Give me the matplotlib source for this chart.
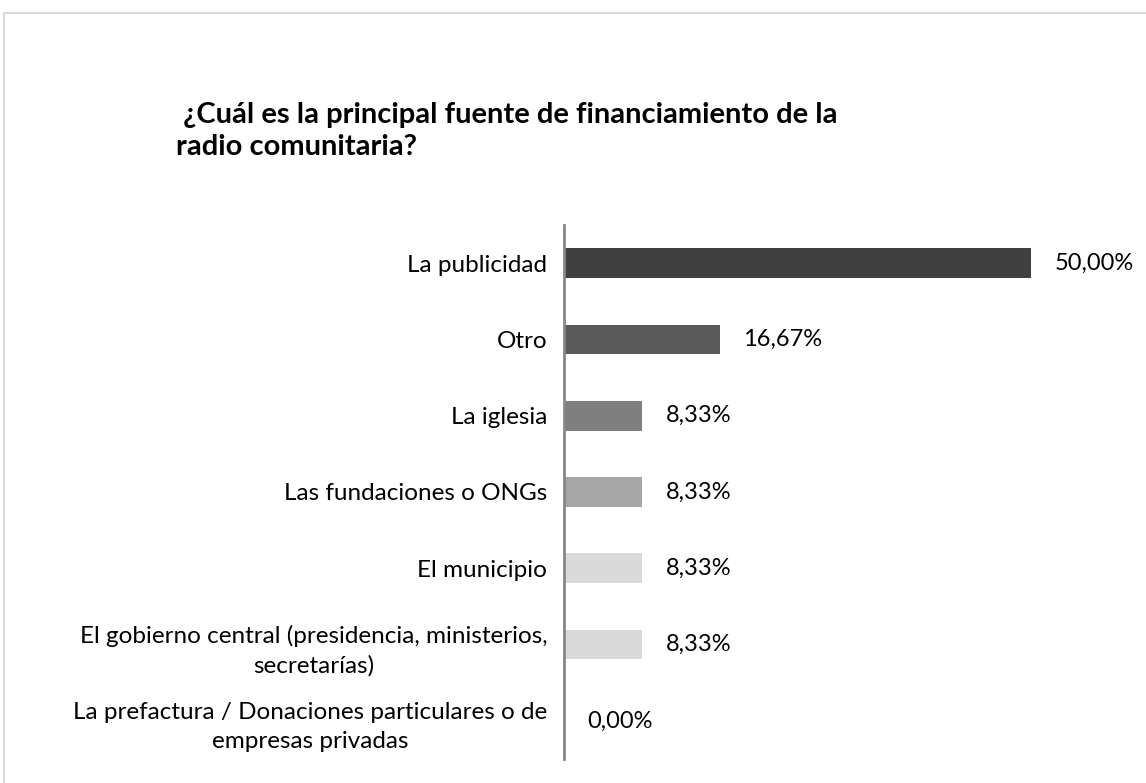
import matplotlib.pyplot as plt
from matplotlib.lines import Line2D

# Data
categories = [
    "La publicidad",
    "Otro",
    "La iglesia",
    "Las fundaciones o ONGs",
    "El municipio",
    "El gobierno central (presidencia, ministerios,\nsecretarías)",
    "La prefactura / Donaciones particulares o de\nempresas privadas",
]
values = [50.00, 16.67, 8.33, 8.33, 8.33, 8.33, 0.00]
value_labels = ["50,00%", "16,67%", "8,33%", "8,33%", "8,33%", "8,33%", "0,00%"]
bar_colors = ["#404040", "#595959", "#7f7f7f", "#a6a6a6", "#d9d9d9", "#d9d9d9", "#d9d9d9"]
title = " ¿Cuál es la principal fuente de financiamiento de la\nradio comunitaria?"

plt.rcParams["font.family"] = ["Lato", "DejaVu Sans"]

W, H = 1146, 783
fig = plt.figure(figsize=(W / 100, H / 100), dpi=100)

# axes placed in pixel terms
left, right, top, bottom = 564, 1031, 225, 759
ax = fig.add_axes([left / W, 1 - bottom / H, (right - left) / W, (bottom - top) / H])

ypos = list(range(len(categories)))
ax.barh(ypos, values, height=0.39, color=bar_colors, zorder=2)
ax.set_xlim(0, 50)
ax.set_ylim(len(categories) - 0.5, -0.5)

for y, v, lab in zip(ypos, values, value_labels):
    ax.annotate(lab, xy=(v, y), xytext=(17, 0), textcoords="offset points",
                ha="left", va="center", fontsize=17, color="#000000",
                annotation_clip=False)

ax.set_yticks(ypos)
ax.set_yticklabels(categories, fontsize=17.5)
for t in ax.get_yticklabels():
    t.set_multialignment("center")
    t.set_linespacing(1.45)
ax.tick_params(axis="y", length=0, pad=12)
ax.set_xticks([])

for s in ["top", "right", "bottom"]:
    ax.spines[s].set_visible(False)
ax.spines["left"].set_color("#868686")
ax.spines["left"].set_linewidth(2)

# title
fig.text(176 / W, 1 - 131 / H, title, fontsize=21, fontweight="bold",
         ha="left", va="center", linespacing=1.3)

# chart area border (only top and left edges are inside the picture)
fig.add_artist(Line2D([4 / W, 1.01], [1 - 13 / H, 1 - 13 / H], color="#d9d9d9", lw=1.5))
fig.add_artist(Line2D([4 / W, 4 / W], [1 - 13 / H, -0.01], color="#d9d9d9", lw=1.5))

fig.savefig("out.png", dpi=100)
